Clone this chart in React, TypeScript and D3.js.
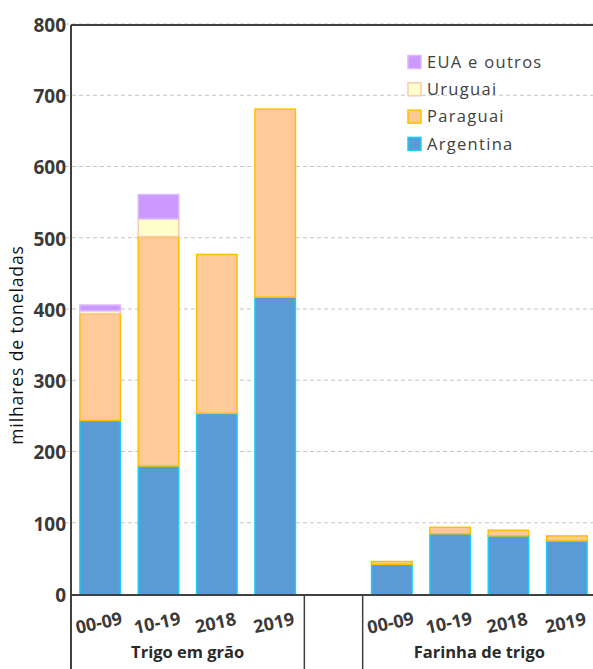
import React, { useEffect, useRef } from "react";
import * as d3 from "d3";

const periods = ["00-09", "10-19", "2018", "2019"];
const groups = ["Trigo em grão", "Farinha de trigo"];
const series = ["Argentina", "Paraguai", "Uruguai", "EUA e outros"];

// milhares de toneladas, per period
const graoArgentina = [245, 181, 255, 418];
const graoParaguai = [150, 322, 223, 264];
const graoUruguai = [4, 25, 0, 0];
const graoEua = [8, 34, 0, 0];

const farinhaArgentina = [43, 86, 83, 76];
const farinhaParaguai = [4, 9, 8, 7];
const farinhaUruguai = [0, 0, 0, 0];
const farinhaEua = [0, 0, 0, 0];

const yTicks = [0, 100, 200, 300, 400, 500, 600, 700, 800];

const fills: Record<string, string> = {
  Argentina: "#5b9bd5",
  Paraguai: "#fdca98",
  Uruguai: "#ffffcc",
  "EUA e outros": "#cc99ff",
};
const strokes: Record<string, string> = {
  Argentina: "#1ccdf7",
  Paraguai: "#ffc000",
  Uruguai: "#f8cbad",
  "EUA e outros": "#dcb8ff",
};

type Row = { slot: string; period: string; [k: string]: number | string };

const App: React.FC = () => {
  const svgRef = useRef<SVGSVGElement | null>(null);

  useEffect(() => {
    if (!svgRef.current) return;
    const svg = d3.select(svgRef.current);
    svg.selectAll("*").remove();

    const width = 593;
    const height = 669;
    const margin = { top: 25, right: -3, bottom: 74, left: 71 };
    const x0 = margin.left;
    const x1 = width - margin.right;
    const yBottom = height - margin.bottom;

    const rows: Row[] = [];
    periods.forEach((p, i) => {
      rows.push({
        slot: "g" + i,
        period: p,
        Argentina: graoArgentina[i],
        Paraguai: graoParaguai[i],
        Uruguai: graoUruguai[i],
        "EUA e outros": graoEua[i],
      });
    });
    const slots = rows.map((r) => r.slot as string);
    slots.push("gap");
    periods.forEach((p, i) => {
      rows.push({
        slot: "f" + i,
        period: p,
        Argentina: farinhaArgentina[i],
        Paraguai: farinhaParaguai[i],
        Uruguai: farinhaUruguai[i],
        "EUA e outros": farinhaEua[i],
      });
      slots.push("f" + i);
    });

    const x = d3
      .scaleBand<string>()
      .domain(slots)
      .range([x0, x1])
      .paddingInner(0.28)
      .paddingOuter(0.14);
    const step = x.step();
    const startOf = (s: string) => x0 + slots.indexOf(s) * step;

    const y = d3.scaleLinear().domain([0, 800]).range([yBottom, margin.top]);

    svg.attr("width", width).attr("height", height);

    // gridlines
    svg
      .append("g")
      .selectAll("line")
      .data(yTicks.filter((t) => t > 0))
      .enter()
      .append("line")
      .attr("x1", x0 - 6)
      .attr("x2", width)
      .attr("y1", (d) => y(d) - 1)
      .attr("y2", (d) => y(d) - 1)
      .attr("stroke", "#c4c4c4")
      .attr("stroke-width", 1)
      .attr("stroke-dasharray", "4,3");

    // bars
    const stacked = d3.stack<Row>().keys(series)(rows);
    const layer = svg
      .append("g")
      .selectAll("g")
      .data(stacked)
      .enter()
      .append("g")
      .attr("fill", (d) => fills[d.key])
      .attr("stroke", (d) => strokes[d.key])
      .attr("stroke-width", 1.5);
    layer
      .selectAll("rect")
      .data((d) => d.filter((v) => v[1] - v[0] > 0))
      .enter()
      .append("rect")
      .attr("x", (d) => (x(d.data.slot as string) as number) + 0.75)
      .attr("width", x.bandwidth() - 1.5)
      .attr("y", (d) => y(d[1]))
      .attr("height", (d) => y(d[0]) - y(d[1]));

    // frame
    const frame = svg
      .append("g")
      .attr("stroke", "#404040")
      .attr("stroke-width", 2)
      .attr("fill", "none");
    frame
      .append("line")
      .attr("x1", x0)
      .attr("x2", x0)
      .attr("y1", margin.top)
      .attr("y2", height);
    frame
      .append("line")
      .attr("x1", x0)
      .attr("x2", width)
      .attr("y1", margin.top)
      .attr("y2", margin.top);
    frame
      .append("line")
      .attr("x1", x0)
      .attr("x2", width)
      .attr("y1", yBottom)
      .attr("y2", yBottom);
    [startOf("gap"), startOf("gap") + step].forEach((lx) => {
      frame
        .append("line")
        .attr("x1", lx)
        .attr("x2", lx)
        .attr("y1", yBottom)
        .attr("y2", height)
        .attr("stroke-width", 1.5);
    });

    // y tick labels
    svg
      .append("g")
      .selectAll("text")
      .data(yTicks)
      .enter()
      .append("text")
      .attr("x", x0 - 5)
      .attr("y", (d) => y(d))
      .attr("dy", "0.36em")
      .attr("text-anchor", "end")
      .attr("font-family", "'Open Sans', sans-serif")
      .attr("font-weight", "bold")
      .attr("font-size", "19px")
      .attr("fill", "#3a3a3a")
      .text((d) => d);

    svg
      .append("text")
      .attr("transform", "translate(23,345) rotate(-90)")
      .attr("text-anchor", "middle")
      .attr("font-family", "'Open Sans', sans-serif")
      .attr("font-size", "17.5px")
      .attr("letter-spacing", "0.9px")
      .attr("fill", "#111")
      .text("milhares de toneladas");

    // x labels
    svg
      .append("g")
      .selectAll("text")
      .data(rows)
      .enter()
      .append("text")
      .attr(
        "transform",
        (d) =>
          `translate(${(x(d.slot as string) as number) + x.bandwidth() / 2},${yBottom + 34}) rotate(-12)`
      )
      .attr("text-anchor", "middle")
      .attr("font-family", "'Open Sans', sans-serif")
      .attr("font-weight", "bold")
      .attr("font-size", "18px")
      .attr("fill", "#3a3a3a")
      .text((d) => d.period);

    const groupCenters = [
      (x0 + startOf("gap")) / 2,
      (startOf("gap") + step + x1) / 2,
    ];
    svg
      .append("g")
      .selectAll("text")
      .data(groups)
      .enter()
      .append("text")
      .attr("x", (_, i) => groupCenters[i])
      .attr("y", yBottom + 63)
      .attr("text-anchor", "middle")
      .attr("font-family", "'Open Sans', sans-serif")
      .attr("font-weight", "bold")
      .attr("font-size", "16.5px")
      .attr("fill", "#2a2a2a")
      .text((d) => d);

    // legend
    const legendOrder = [...series].reverse();
    const legend = svg
      .append("g")
      .attr("transform", "translate(408,62)")
      .selectAll("g")
      .data(legendOrder)
      .enter()
      .append("g")
      .attr("transform", (_, i) => `translate(0,${i * 27.3})`);
    legend
      .append("rect")
      .attr("x", 0)
      .attr("y", -6.5)
      .attr("width", 13)
      .attr("height", 13)
      .attr("fill", (d) => fills[d])
      .attr("stroke", (d) => strokes[d])
      .attr("stroke-width", 1.5);
    legend
      .append("text")
      .attr("x", 19)
      .attr("dy", "0.35em")
      .attr("font-family", "'Open Sans', sans-serif")
      .attr("font-size", "16.5px")
      .attr("letter-spacing", "1.3px")
      .attr("fill", "#404040")
      .text((d) => d);
  }, []);

  return (
    <svg
      ref={svgRef}
      style={{ position: "absolute", left: 0, top: 0, display: "block" }}
    ></svg>
  );
};

export default App;
